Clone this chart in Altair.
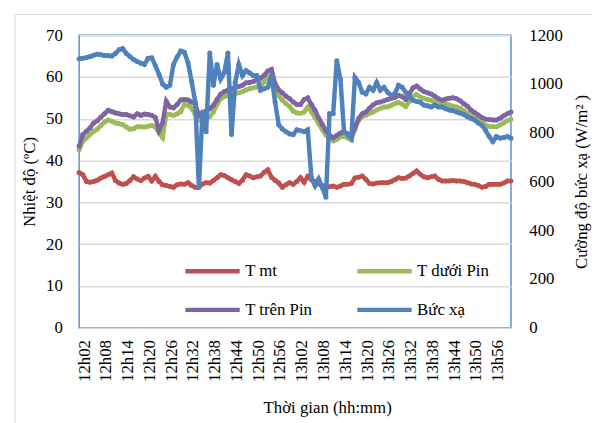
import altair as alt
import pandas as pd

# Categories: one reading per minute, 12h02 .. 14h01
times = [f"{12 + (2 + i) // 60}h{(2 + i) % 60:02d}" for i in range(120)]
tick_labels = ["12h02", "12h08", "12h14", "12h20", "12h26", "12h32", "12h38",
               "12h44", "12h50", "12h56", "13h02", "13h08", "13h14", "13h20",
               "13h26", "13h32", "13h38", "13h44", "13h50", "13h56"]

# legend is filled column by column: T mt / T trên Pin | T dưới Pin / Bức xạ
series_names = ["T mt", "T trên Pin", "T dưới Pin", "Bức xạ"]
series_colors = ["#C0504D", "#8064A2", "#9BBB59", "#4F81BD"]

t_mt = [37.1, 36.6, 35.0, 34.8, 35.0, 35.3, 35.8, 36.2, 36.6, 37.0,
        35.2, 34.6, 34.3, 34.5, 35.2, 36.1, 35.6, 35.2, 35.8, 36.2,
        35.1, 36.2, 35.0, 34.2, 34.0, 33.8, 33.6, 34.2, 34.4, 34.3,
        34.7, 34.0, 33.6, 33.6, 34.4, 34.7, 34.6, 35.2, 35.9, 36.6,
        36.4, 35.9, 35.4, 35.0, 34.5, 35.3, 36.6, 36.3, 35.9, 36.1,
        36.3, 37.2, 37.8, 36.0, 35.3, 34.6, 33.6, 34.2, 34.7, 34.3,
        35.0, 35.9, 34.8, 36.2, 35.4, 35.0, 34.4, 34.0, 33.6, 33.7,
        33.9, 33.6, 33.9, 34.3, 34.3, 34.5, 35.8, 36.0, 36.3, 35.5,
        34.5, 34.4, 34.6, 34.7, 34.7, 34.7, 35.0, 35.4, 35.9, 35.7,
        35.8, 36.3, 36.9, 37.5, 36.7, 36.1, 35.9, 36.1, 36.3, 35.5,
        35.1, 35.1, 35.1, 35.2, 35.1, 35.1, 35.0, 34.7, 34.4, 34.3,
        34.0, 33.6, 33.8, 34.3, 34.3, 34.3, 34.3, 34.6, 35.1, 35.1]

t_duoi = [42.6, 44.6, 45.4, 46.2, 47.0, 47.5, 48.4, 49.2, 49.7, 49.4,
          49.0, 48.8, 48.6, 48.0, 47.5, 47.6, 48.1, 48.1, 48.0, 48.2,
          48.4, 48.0, 46.6, 45.5, 51.0, 51.0, 50.8, 51.2, 51.7, 53.4,
          53.2, 52.5, 51.0, 49.7, 50.0, 50.0, 50.5, 51.6, 53.4, 54.8,
          55.3, 55.6, 55.8, 56.0, 56.2, 56.5, 56.9, 57.2, 57.4, 57.6,
          57.8, 58.8, 59.9, 60.2, 57.8, 55.5, 54.4, 53.6, 52.9, 51.8,
          51.4, 51.3, 51.6, 52.8, 51.6, 50.3, 48.8, 47.4, 46.1, 45.2,
          44.7, 45.0, 45.7, 45.8, 45.4, 44.9, 47.4, 49.6, 50.5, 50.8,
          51.3, 51.6, 52.1, 52.5, 52.8, 52.8, 53.2, 53.6, 53.9, 53.5,
          52.9, 54.2, 55.4, 55.8, 55.2, 54.9, 54.6, 54.4, 54.1, 53.8,
          53.6, 53.6, 53.3, 53.0, 52.8, 52.5, 51.9, 51.3, 50.8, 50.2,
          49.6, 49.0, 48.5, 48.2, 48.1, 48.1, 48.5, 49.0, 49.5, 49.9]

t_tren = [43.4, 46.2, 47.0, 47.8, 49.0, 49.5, 50.4, 51.2, 52.0, 51.7,
          51.4, 51.2, 51.0, 51.0, 50.7, 50.4, 51.2, 50.8, 51.1, 51.0,
          50.8, 50.3, 47.2, 49.0, 54.2, 52.8, 52.6, 53.4, 54.5, 54.6,
          54.5, 54.0, 53.5, 50.8, 51.4, 51.9, 52.4, 53.2, 54.6, 55.9,
          56.5, 56.9, 57.2, 57.4, 57.7, 58.0, 58.6, 58.7, 58.9, 59.4,
          59.7, 60.4, 61.4, 61.8, 58.4, 56.9, 56.2, 55.4, 54.8, 54.0,
          53.4, 53.4, 54.6, 55.0, 53.4, 52.0, 50.2, 48.6, 47.2, 46.1,
          45.4, 46.0, 46.6, 46.9, 46.4, 45.7, 48.0, 50.0, 51.2, 51.6,
          52.5, 53.3, 53.8, 54.0, 54.3, 54.6, 54.9, 55.1, 55.6, 55.3,
          54.6, 56.0, 57.4, 57.8, 57.1, 56.5, 56.2, 55.9, 55.4, 54.8,
          54.4, 54.7, 54.9, 55.0, 54.8, 54.3, 53.6, 53.0, 52.1, 51.5,
          50.9, 50.3, 49.9, 49.8, 49.7, 49.7, 50.1, 50.7, 51.2, 51.6]

buc_xa = [1103, 1105, 1108, 1112, 1118, 1122, 1120, 1116, 1116, 1114,
          1125, 1140, 1145, 1125, 1112, 1100, 1092, 1085, 1080, 1105,
          1107, 1075, 1040, 1000, 986, 994, 1080, 1110, 1135, 1130,
          1087, 1010, 925, 575, 885, 804, 1127, 994, 1080, 1020,
          1046, 1127, 792, 1006, 1080, 1034, 1055, 1045, 1034, 1034,
          974, 980, 986, 1034, 925, 832, 815, 804, 795, 792,
          812, 808, 804, 812, 615, 582, 610, 575, 535, 878,
          878, 1095, 1020, 804, 792, 777, 1026, 1006, 966, 959,
          986, 974, 1006, 974, 986, 966, 953, 960, 994, 986,
          966, 945, 933, 928, 925, 913, 910, 905, 913, 905,
          905, 898, 893, 890, 885, 880, 875, 865, 858, 852,
          840, 830, 810, 784, 764, 784, 777, 780, 784, 777]

FONT = "Liberation Serif"
FS = 17


def frame(name, vals):
    return pd.DataFrame({"time": times, "series": name, "value": vals})


x_enc = alt.X(
    "time:O",
    scale=alt.Scale(domain=times, padding=0),
    axis=alt.Axis(values=tick_labels, labelAngle=-90, labelPadding=12,
                  labelOffset=5, ticks=False, domain=False, grid=False,
                  title="Thời gian (hh:mm)", titlePadding=18, titleX=251),
)

color_enc = alt.Color(
    "series:N",
    scale=alt.Scale(domain=series_names, range=series_colors),
    legend=alt.Legend(title=None, orient="none", legendX=105, legendY=209,
                      columns=2, columnPadding=36, rowPadding=-17,
                      symbolType="stroke", symbolSize=3025,
                      symbolStrokeWidth=4.5, labelOffset=3, padding=0,
                      labelFont=FONT, labelFontSize=FS, labelColor="black"),
)

y_temp = alt.Y(
    "value:Q",
    scale=alt.Scale(domain=[0, 70], nice=False, zero=True),
    axis=alt.Axis(values=list(range(0, 71, 10)), title="Nhiệt độ (ºC)",
                  orient="left", grid=True, gridColor="#D9D9D9",
                  gridWidth=1.5, ticks=False, domain=False,
                  labelPadding=17, titleAngle=270, titleX=-50, titleY=148,
                  titleAlign="center", titleBaseline="middle"),
)

y_rad = alt.Y(
    "value:Q",
    scale=alt.Scale(domain=[0, 1200], nice=False, zero=True),
    axis=alt.Axis(values=list(range(0, 1201, 200)), format="d",
                  title="Cường độ bức xạ (W/m² )", orient="right",
                  grid=False, ticks=False, domain=False,
                  labelPadding=18, titleAngle=270, titleX=71, titleY=148,
                  titleAlign="center", titleBaseline="middle"),
)


def series_layer(name, vals, y_enc):
    return alt.Chart(frame(name, vals)).mark_line(
        strokeWidth=4.5,
        point=alt.OverlayMarkDef(size=26, filled=True, opacity=1),
    ).encode(x=x_enc, y=y_enc, color=color_enc)


temps = alt.layer(
    series_layer("T mt", t_mt, y_temp),
    series_layer("T dưới Pin", t_duoi, y_temp),
    series_layer("T trên Pin", t_tren, y_temp),
)
rad = series_layer("Bức xạ", buc_xa, y_rad)

border_df = pd.DataFrame({"k": [0]})
border_v = alt.Chart(border_df).mark_rule(color="#D9D9D9", strokeWidth=1).encode(
    x=alt.value(-65), y=alt.value(-21), y2=alt.value(420))
border_h = alt.Chart(border_df).mark_rule(color="#D9D9D9", strokeWidth=1).encode(
    x=alt.value(-65), x2=alt.value(540), y=alt.value(-21))

chart = alt.layer(border_v, border_h, temps, rad).resolve_scale(
    y="independent"
).properties(
    width=437, height=296,
    background="white",
    autosize=alt.AutoSizeParams(type="none"),
    padding={"left": 72, "top": 25, "right": 82, "bottom": 94},
).configure_view(
    stroke="#5B8FD0", strokeWidth=1.5
).configure_axis(
    labelFont=FONT, labelFontSize=FS, labelColor="black",
    titleFont=FONT, titleFontSize=FS, titleColor="black",
    titleFontWeight="normal",
)

chart.save("out.html", embed_options={"renderer": "svg", "actions": False})
